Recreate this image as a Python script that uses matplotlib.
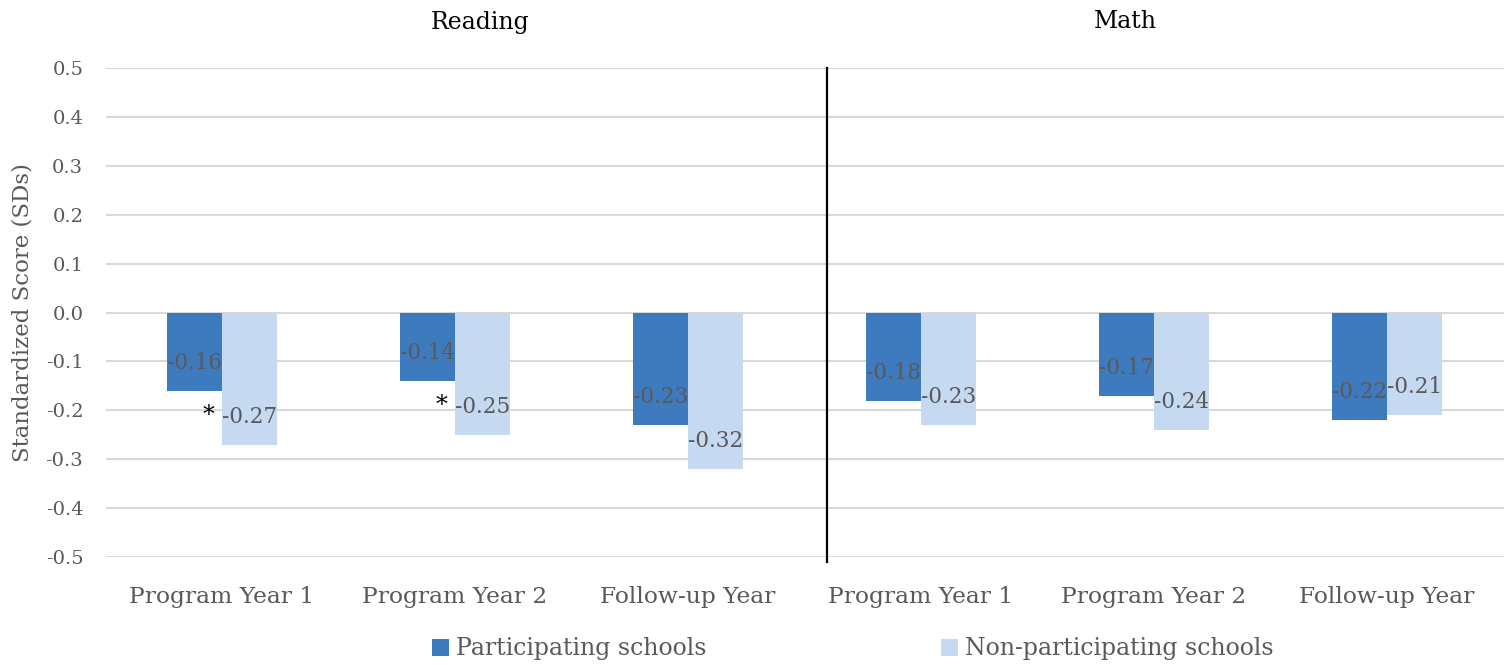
import matplotlib
matplotlib.use("Agg")
import matplotlib.pyplot as plt
import numpy as np

categories = ["Program Year 1", "Program Year 2", "Follow-up Year",
              "Program Year 1", "Program Year 2", "Follow-up Year"]
participating = [-0.16, -0.14, -0.23, -0.18, -0.17, -0.22]
non_participating = [-0.27, -0.25, -0.32, -0.23, -0.24, -0.21]
series_names = ["Participating schools", "Non-participating schools"]
panel_titles = ["Reading", "Math"]
significant = [True, True, False, False, False, False]
yticks = [0.5, 0.4, 0.3, 0.2, 0.1, 0.0, -0.1, -0.2, -0.3, -0.4, -0.5]

plt.rcParams['font.family'] = ['DejaVu Serif']

dark = "#3E7BBE"
light = "#C5D9F0"
txt = "#595959"

fig = plt.figure(figsize=(15.04, 6.65), dpi=100)
ax = fig.add_axes([105.5/1504, 1-557/665, 1398/1504, (557-68)/665])

x = np.arange(len(categories))
w = 0.238
b1 = ax.bar(x - w/2, participating, w, color=dark, label=series_names[0], zorder=2)
b2 = ax.bar(x + w/2, non_participating, w, color=light, label=series_names[1], zorder=2)

for bars, vals in ((b1, participating), (b2, non_participating)):
    for r, v in zip(bars, vals):
        ax.annotate(f"{v:.2f}", (r.get_x() + r.get_width()/2, v),
                    xytext=(0, 20), textcoords="offset points",
                    ha="center", va="center", fontsize=15.5, color=txt, zorder=3)

for i, s in enumerate(significant):
    if s:
        ax.annotate("*", (x[i] + w/2, non_participating[i]),
                    xytext=(-30, 21), textcoords="offset points",
                    ha="center", va="center", fontsize=17, color="black", zorder=3)

ax.set_xlim(-0.5, len(categories) - 0.5)
ax.set_ylim(-0.5, 0.5)
ax.set_yticks(yticks)
ax.set_yticklabels([f"{t:.1f}" for t in yticks], fontsize=14, color=txt)
ax.set_xticks(x)
ax.set_xticklabels(categories, fontsize=16.8, color=txt)
ax.tick_params(axis="both", length=0)
ax.tick_params(axis="y", pad=16)
ax.tick_params(axis="x", pad=21)
ax.yaxis.grid(True, color="#D9D9D9", linewidth=1.5, zorder=0)
ax.set_axisbelow(True)
for sp in ax.spines.values():
    sp.set_visible(False)
ax.set_ylabel("Standardized Score (SDs)", fontsize=16.5, color=txt, labelpad=9)

ax.axvline(2.597, ymin=-0.01, ymax=1.0, color="black", linewidth=1.6, clip_on=False, zorder=4)

fig.text(480/1504, 1-22/665, panel_titles[0], ha="center", va="center", fontsize=17, color="black")
fig.text(1125/1504, 1-22/665, panel_titles[1], ha="center", va="center", fontsize=17, color="black")

leg = fig.legend(loc="center", bbox_to_anchor=(853/1504, 1-649/665), ncol=2,
                 frameon=False, fontsize=17, handlelength=0.7, handleheight=0.7,
                 handletextpad=0.3, columnspacing=9.95, labelcolor=txt)

fig.savefig("out.png", dpi=100)
